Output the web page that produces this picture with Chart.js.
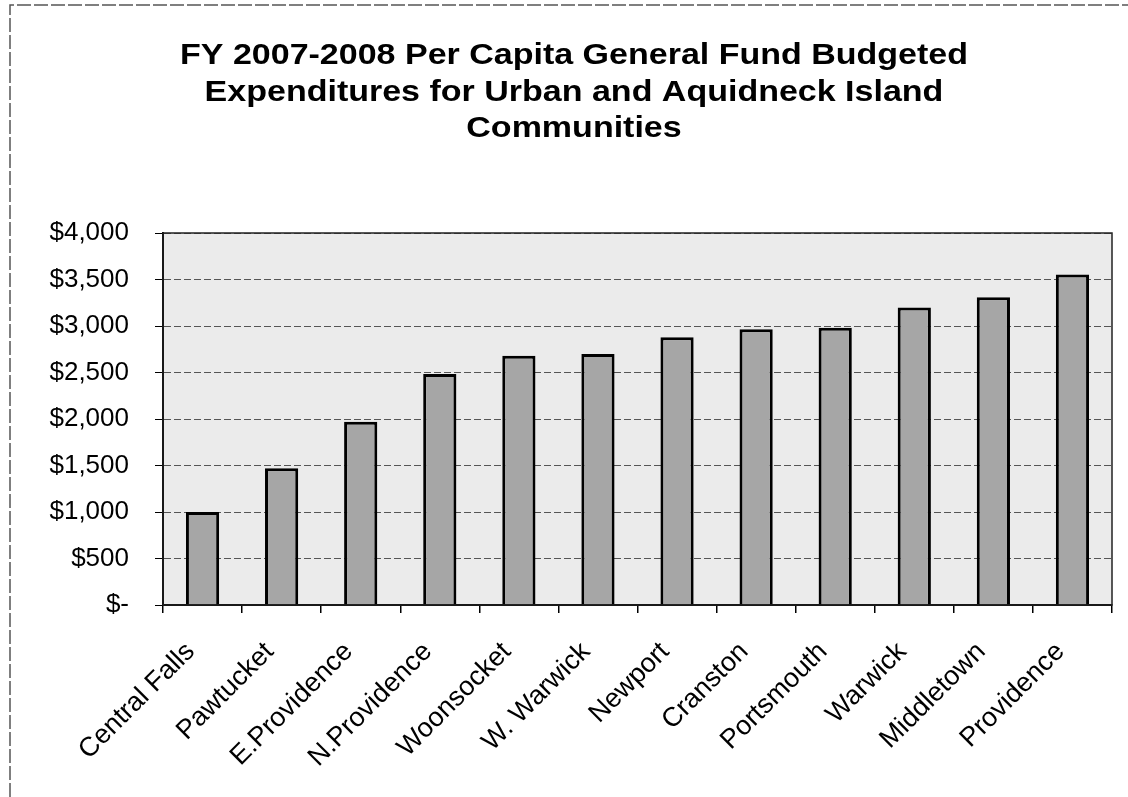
<!DOCTYPE html>
<html>
<head>
<meta charset="utf-8">
<script src="https://cdn.jsdelivr.net/npm/chart.js@4/dist/chart.umd.min.js"></script>
<style>
html,body{margin:0;padding:0;background:#fff;}
#wrap{width:1128px;height:797px;position:relative;}
</style>
</head>
<body>
<div id="wrap"><canvas id="c" width="1128" height="797"></canvas></div>
<script>
const categories = ['Central Falls','Pawtucket','E.Providence','N.Providence','Woonsocket','W. Warwick','Newport','Cranston','Portsmouth','Warwick','Middletown','Providence'];
const perCapita = [1000, 1470, 1970, 2485, 2680, 2700, 2880, 2965, 2980, 3200, 3310, 3555];
const titleLines = ['FY 2007-2008 Per Capita General Fund Budgeted','Expenditures for Urban and Aquidneck Island','Communities'];

const FONT = "'Liberation Sans', Arial, sans-serif";

const decor = {
  id: 'decor',
  beforeDraw(chart) {
    const {ctx, chartArea: a} = chart;
    ctx.save();
    ctx.fillStyle = '#ebebeb';
    ctx.fillRect(a.left, a.top, a.right - a.left, a.bottom - a.top);
    ctx.strokeStyle = '#555';
    ctx.lineWidth = 1.5;
    ctx.setLineDash([14, 3]);
    ctx.beginPath();
    ctx.moveTo(10, 797);
    ctx.lineTo(10, 5);
    ctx.lineTo(1128, 5);
    ctx.stroke();
    ctx.restore();
  },
  afterDatasetsDraw(chart) {
    const {ctx, chartArea: a} = chart;
    ctx.save();
    ctx.strokeStyle = '#222';
    ctx.lineWidth = 1.5;
    ctx.strokeRect(a.left, a.top, a.right - a.left, a.bottom - a.top);
    ctx.restore();
  },
  afterDraw(chart) {
    const ctx = chart.ctx;
    ctx.save();
    ctx.font = 'bold 29px ' + FONT;
    ctx.fillStyle = '#000';
    ctx.textAlign = 'center';
    ctx.textBaseline = 'middle';
    const w0 = ctx.measureText(titleLines[0]).width;
    const sx = 788 / w0;
    const cx = 574, ys = [56, 93, 129];
    titleLines.forEach((t, i) => {
      ctx.save();
      ctx.translate(cx, ys[i]);
      ctx.scale(sx, 1);
      ctx.fillText(t, 0, 0);
      ctx.restore();
    });
    ctx.restore();
  }
};

new Chart(document.getElementById('c'), {
  type: 'bar',
  data: {
    labels: categories,
    datasets: [{
      data: perCapita,
      backgroundColor: '#a6a6a6',
      borderColor: '#000',
      borderWidth: 3,
      borderSkipped: 'bottom',
      barPercentage: 0.42,
      categoryPercentage: 1
    }]
  },
  options: {
    responsive: false,
    animation: false,
    devicePixelRatio: 1,
    layout: { padding: { left: 10, right: 16, top: 233, bottom: 0 } },
    plugins: {
      legend: { display: false },
      tooltip: { enabled: false },
      title: { display: false }
    },
    scales: {
      x: {
        grid: { offset: true, drawOnChartArea: false, drawTicks: true, tickLength: 8, color: '#000', lineWidth: 1.5 },
        border: { display: true, color: '#000', width: 2 },
        ticks: {
          color: '#000',
          font: { family: FONT, size: 27 },
          minRotation: 45, maxRotation: 45,
          autoSkip: false,
          padding: 23,
          labelOffset: -12
        },
        afterFit(scale) { scale.height = 192; }
      },
      y: {
        min: 0, max: 4000,
        grid: { color: '#555', lineWidth: 1, tickLength: 8, tickColor: '#000' },
        border: { display: true, color: '#000', width: 2, dash: [7, 3] },
        ticks: {
          stepSize: 500,
          color: '#000',
          font: { family: FONT, size: 26 },
          padding: 26,
          callback: v => v === 0 ? '$-' : '$' + v.toLocaleString('en-US')
        },
        afterFit(scale) { scale.width = 153; }
      }
    }
  },
  plugins: [decor]
});
</script>
</body>
</html>
